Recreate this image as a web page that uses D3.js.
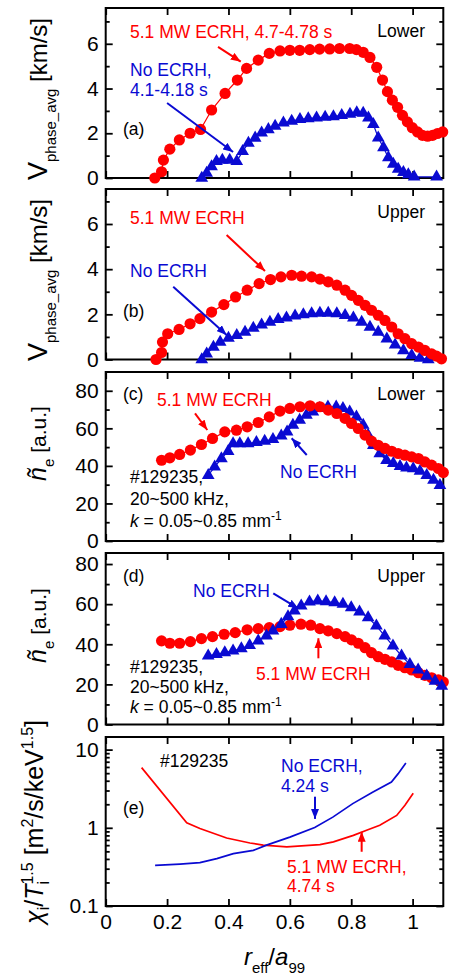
<!DOCTYPE html>
<html>
<head>
<meta charset="utf-8">
<script src="https://cdn.jsdelivr.net/npm/d3@7"></script>
<style>
  body { margin: 0; background: #fff; }
  text { font-family: "Liberation Sans", Arial, sans-serif; }
</style>
</head>
<body>
<svg id="chart" width="454" height="978"></svg>
<script>
const RED = '#ff0000'
const BLUE = '#0a0ad2'

// shared x ticks (r_eff/a_99)
const xTicks = [0, 0.2, 0.4, 0.6, 0.8, 1]

// (a) V_phase_avg, lower
const aRedR = [0.160,0.182,0.188,0.209,0.240,0.275,0.309,0.345,0.389,0.429,0.459,0.497,0.533,0.568,0.600,0.632,0.665,0.697,0.730,0.762,0.795,0.817,0.839,0.861,0.883,0.902,0.918,0.934,0.951,0.967,0.983,0.999,1.016,1.032,1.049,1.065,1.081,1.098]
const aRedV = [0.00,0.28,0.80,1.29,1.70,2.00,2.17,3.04,3.78,4.38,4.90,5.27,5.57,5.68,5.71,5.71,5.74,5.76,5.77,5.79,5.79,5.74,5.62,5.39,4.95,4.38,3.86,3.48,3.16,2.80,2.51,2.25,2.06,1.91,1.87,1.91,1.99,2.06]
const aBlueR = [0.313,0.329,0.345,0.361,0.380,0.404,0.427,0.446,0.465,0.487,0.508,0.530,0.552,0.579,0.606,0.633,0.660,0.687,0.715,0.742,0.769,0.796,0.818,0.839,0.856,0.872,0.888,0.905,0.921,0.937,0.953,0.970,0.986,1.005,1.078]
const aBlueV = [0.00,0.22,0.51,0.74,0.80,0.80,0.74,1.19,1.56,1.79,2.02,2.17,2.32,2.47,2.54,2.62,2.66,2.69,2.72,2.75,2.80,2.86,2.92,2.90,2.69,2.40,1.80,1.36,0.91,0.62,0.40,0.25,0.15,0.05,0.05]

// (b) V_phase_avg, upper
const bRedR = [0.164,0.182,0.185,0.202,0.239,0.275,0.307,0.345,0.385,0.423,0.461,0.500,0.537,0.571,0.606,0.638,0.671,0.698,0.725,0.753,0.780,0.801,0.823,0.845,0.866,0.888,0.910,0.932,0.953,0.975,0.997,1.019,1.040,1.062,1.078,1.094]
const bRedV = [0.00,0.31,0.77,1.14,1.33,1.58,1.81,2.10,2.43,2.77,3.07,3.36,3.54,3.66,3.73,3.69,3.66,3.56,3.44,3.29,3.07,2.84,2.62,2.40,2.18,1.96,1.73,1.44,1.14,0.92,0.70,0.55,0.40,0.25,0.15,0.03]
const bBlueR = [0.313,0.329,0.351,0.373,0.400,0.427,0.454,0.481,0.508,0.535,0.562,0.589,0.617,0.644,0.671,0.698,0.725,0.753,0.780,0.807,0.834,0.861,0.888,0.916,0.943,0.970,0.997,1.024,1.051]
const bBlueV = [0.00,0.25,0.55,0.77,0.95,1.07,1.21,1.39,1.54,1.66,1.78,1.84,1.93,1.99,2.03,2.06,2.06,2.03,1.96,1.84,1.66,1.44,1.21,0.92,0.65,0.40,0.18,0.06,0.00]

// (c) n_e fluctuation, lower
const cRedR = [0.182,0.209,0.241,0.276,0.312,0.348,0.388,0.426,0.461,0.497,0.533,0.568,0.600,0.633,0.666,0.698,0.725,0.753,0.780,0.801,0.823,0.845,0.866,0.888,0.910,0.932,0.953,0.975,0.997,1.019,1.040,1.062,1.084,1.100]
const cRedV = [43.0,44.3,46.1,48.4,51.4,54.6,58.1,59.0,60.8,63.1,66.1,69.2,70.6,71.5,72.0,71.5,69.7,67.9,65.3,62.6,59.9,56.4,53.2,51.0,49.3,47.8,46.6,45.7,44.8,43.9,42.1,40.4,38.6,36.5]
const cBlueR = [0.334,0.355,0.377,0.399,0.415,0.437,0.464,0.491,0.518,0.545,0.572,0.591,0.610,0.632,0.654,0.675,0.697,0.724,0.751,0.773,0.795,0.817,0.839,0.855,0.872,0.893,0.915,0.937,0.959,0.980,1.002,1.024,1.046,1.068,1.089]
const cBlueV = [35.0,39.5,43.9,47.8,51.9,51.9,51.9,52.5,53.2,54.2,56.0,58.1,61.7,64.4,67.0,68.8,70.6,71.5,71.5,70.6,68.8,66.1,61.7,56.4,51.0,46.6,43.0,41.3,39.8,38.9,38.6,37.2,35.0,32.4,29.7]

// (d) n_e fluctuation, upper
const dRedR = [0.182,0.209,0.241,0.276,0.312,0.348,0.386,0.422,0.461,0.497,0.533,0.568,0.600,0.636,0.668,0.698,0.725,0.753,0.780,0.801,0.823,0.845,0.866,0.888,0.910,0.932,0.953,0.975,0.997,1.019,1.040,1.062,1.084,1.100]
const dRedV = [41.7,40.5,40.5,41.3,42.8,43.8,45.0,45.8,47.2,47.8,48.3,48.8,49.5,50.0,49.5,47.8,46.7,45.3,43.8,42.2,40.5,38.3,35.8,33.8,32.5,31.2,29.5,28.3,27.2,25.8,24.5,23.3,22.2,21.2]
const dBlueR = [0.334,0.361,0.388,0.415,0.442,0.469,0.497,0.524,0.545,0.572,0.594,0.615,0.637,0.664,0.691,0.718,0.746,0.773,0.800,0.827,0.855,0.882,0.909,0.936,0.964,0.991,1.018,1.046,1.073,1.095]
const dBlueV = [34.2,35.0,35.8,36.7,37.8,39.5,41.7,44.2,46.7,50.0,53.8,56.7,59.2,61.2,61.7,61.3,60.8,60.0,58.3,56.2,53.3,49.2,44.2,39.2,34.2,30.0,27.2,24.2,21.7,19.2]

// (e) chi_i / T_i^1.5
const eRedR = [0.117,0.264,0.307,0.394,0.470,0.513,0.590,0.698,0.742,0.807,0.850,0.893,0.948,0.975,1.002]
const eRedV = [5.89,1.16,0.98,0.74,0.64,0.60,0.57,0.61,0.66,0.80,0.93,1.08,1.44,1.94,2.76]
const eBlueR = [0.161,0.242,0.307,0.362,0.416,0.481,0.524,0.600,0.681,0.740,0.805,0.871,0.931,0.953,0.978]
const eBlueV = [0.331,0.344,0.359,0.404,0.468,0.515,0.60,0.76,1.01,1.37,2.04,2.87,3.85,4.93,6.74]

const svg = d3.select('#chart')
const x = d3.scaleLinear().domain([0, 1.1]).range([105.7, 443.3])
const [x0, x1] = x.range()
const fmt = d3.format('~g')

const defs = svg.append('defs')
;[['red', RED], ['blue', BLUE]].forEach(([id, c]) => {
  defs.append('marker').attr('id', 'head-' + id)
    .attr('viewBox', '0 0 10 8').attr('refX', 10).attr('refY', 4)
    .attr('markerUnits', 'userSpaceOnUse').attr('markerWidth', 10).attr('markerHeight', 8)
    .attr('orient', 'auto')
    .append('path').attr('d', 'M0,0 L10,4 L0,8 z').attr('fill', c)
})

// text with sub/superscripts
function rich(sel, parts) {
  let off = 0
  parts.forEach(p => {
    const o = typeof p === 'string' ? { t: p } : p
    const shift = o.sub ? o.sub : o.sup ? -o.sup : 0
    const ts = sel.append('tspan').text(o.t).attr('dy', shift - off)
    off = shift
    if (o.size) ts.attr('font-size', o.size)
    if (o.it) ts.attr('font-style', 'italic')
    if (o.back) ts.attr('dx', -ts.node().previousSibling.getComputedTextLength())
  })
  return sel
}

const vLabel = [{ t: 'V', size: 27 }, { t: 'phase_avg', sub: 9, size: 15 }, { t: ' [km/s]', size: 24 }]
const nLabel = [{ t: 'ñ', it: true, size: 25 }, { t: 'e', sub: 8, size: 15 }, { t: ' [a.u.]', size: 21 }]
const chiLabel = [{ t: 'χ', it: true }, { t: 'i', sub: 6, size: 16 }, '/', { t: 'T', it: true },
  { t: 'i', sub: 6, size: 16 }, { t: '1.5', sup: 10, size: 16, back: true }, ' [m',
  { t: '2', sup: 10, size: 16 }, '/s/keV', { t: '1.5', sup: 10, size: 16 }, ']']
const kLine = [{ t: 'k', it: true }, ' = 0.05~0.85 mm', { t: '-1', sup: 7, size: 12 }]

const logMinor = [2, 3, 4, 5, 6, 7, 8, 9].flatMap(k => [k * 0.1, k])

const panels = [
  { top: 8, bottom: 178, y: d3.scaleLinear().domain([0, 7.6]), major: [0, 2, 4, 6], minor: [1, 3, 5, 7],
    series: [{ r: aBlueR, v: aBlueV, c: BLUE, m: 'tri' }, { r: aRedR, v: aRedV, c: RED, m: 'dot' }],
    label: { parts: vLabel, x: 47, y: 99 },
    notes: [
      { x: 130, y: 29.7, c: RED, p: ['5.1 MW ECRH, 4.7-4.78 s'] },
      { x: 130, y: 68, c: BLUE, p: ['No ECRH,'] },
      { x: 130, y: 87.5, c: BLUE, p: ['4.1-4.18 s'] },
      { x: 425, y: 28.7, a: 'end', p: ['Lower'] },
      { x: 123, y: 127, p: ['(a)'] }],
    arrows: [{ c: 'red', f: [0.366, 5.86], t: [0.44, 5.2] }, { c: 'blue', f: [0.2, 3.35], t: [0.415, 1.16] }] },
  { top: 189, bottom: 359.5, y: d3.scaleLinear().domain([0, 7.55]), major: [0, 2, 4, 6], minor: [1, 3, 5, 7],
    series: [{ r: bBlueR, v: bBlueV, c: BLUE, m: 'tri' }, { r: bRedR, v: bRedV, c: RED, m: 'dot' }],
    label: { parts: vLabel, x: 47, y: 280 },
    notes: [
      { x: 130, y: 35.3, c: RED, p: ['5.1 MW ECRH'] },
      { x: 130, y: 88.3, c: BLUE, p: ['No ECRH'] },
      { x: 425, y: 29.3, a: 'end', p: ['Upper'] },
      { x: 123, y: 128, p: ['(b)'] }],
    arrows: [{ c: 'red', f: [0.394, 5.51], t: [0.519, 3.92] }, { c: 'blue', f: [0.22, 3.22], t: [0.394, 1.09] }] },
  { top: 372, bottom: 541, y: d3.scaleLinear().domain([0, 90]), major: [0, 20, 40, 60, 80], minor: [10, 30, 50, 70],
    series: [{ r: cBlueR, v: cBlueV, c: BLUE, m: 'tri' }, { r: cRedR, v: cRedV, c: RED, m: 'dot' }],
    label: { parts: nLabel, x: 46, y: 443.5 },
    notes: [
      { x: 123, y: 27.5, p: ['(c)'] },
      { x: 157, y: 33.7, c: RED, p: ['5.1 MW ECRH'] },
      { x: 425, y: 28, a: 'end', p: ['Lower'] },
      { x: 280, y: 105.7, c: BLUE, p: ['No ECRH'] },
      { x: 130, y: 111, p: ['#129235,'] },
      { x: 130, y: 133, p: ['20~500 kHz,'] },
      { x: 130, y: 155, p: kLine }],
    arrows: [{ c: 'red', f: [0.291, 68], t: [0.331, 59.1] }, { c: 'blue', f: [0.655, 45.8], t: [0.606, 54.7] }] },
  { top: 553, bottom: 724.5, y: d3.scaleLinear().domain([0, 85.5]), major: [0, 20, 40, 60, 80], minor: [10, 30, 50, 70],
    series: [{ r: dRedR, v: dRedV, c: RED, m: 'dot' }, { r: dBlueR, v: dBlueV, c: BLUE, m: 'tri' }],
    label: { parts: nLabel, x: 46, y: 625.5 },
    notes: [
      { x: 123, y: 29.3, p: ['(d)'] },
      { x: 425, y: 29.3, a: 'end', p: ['Upper'] },
      { x: 193, y: 44.3, c: BLUE, p: ['No ECRH'] },
      { x: 256, y: 127, c: RED, p: ['5.1 MW ECRH'] },
      { x: 130, y: 119.5, p: ['#129235,'] },
      { x: 130, y: 139.5, p: ['20~500 kHz,'] },
      { x: 130, y: 159.5, p: kLine }],
    arrows: [{ c: 'blue', f: [0.546, 65.4], t: [0.627, 57.9] }, { c: 'red', f: [0.693, 33], t: [0.693, 43] }] },
  { top: 737, bottom: 906, y: d3.scaleLog().domain([0.1, 14.5]), major: [0.1, 1, 10], minor: logMinor, last: true,
    series: [{ r: eRedR, v: eRedV, c: RED }, { r: eBlueR, v: eBlueV, c: BLUE }],
    label: { parts: chiLabel, x: 43, y: 822 },
    notes: [
      { x: 160, y: 29.7, p: ['#129235'] },
      { x: 123, y: 77, p: ['(e)'] },
      { x: 281, y: 34.7, c: BLUE, p: ['No ECRH,'] },
      { x: 281, y: 54.7, c: BLUE, p: ['4.24 s'] },
      { x: 287, y: 136.3, c: RED, p: ['5.1 MW ECRH,'] },
      { x: 287, y: 155.3, c: RED, p: ['4.74 s'] }],
    arrows: [{ c: 'blue', f: [0.682, 2.5], t: [0.682, 1.3] }, { c: 'red', f: [0.834, 0.494], t: [0.834, 0.89] }] }
]

function addAxis(g, axis, tr) {
  return g.append('g').attr('transform', tr).call(axis)
    .call(a => a.select('.domain').remove())
    .call(a => a.selectAll('line').attr('stroke', '#000').attr('stroke-width', 1.8))
    .attr('font-size', 21).attr('font-family', '"Liberation Sans", Arial, sans-serif')
    .call(a => a.selectAll('text').attr('fill', '#000'))
}

panels.forEach(p => {
  const g = svg.append('g')
  const y = p.y.range([p.bottom, p.top])
  const minor = p.minor.filter(v => v <= y.domain()[1])

  // ticks, all inward, mirrored on top/right
  addAxis(g, d3.axisLeft(y).tickValues(p.major).tickSize(-7).tickPadding(7).tickFormat(fmt), `translate(${x0},0)`)
  addAxis(g, d3.axisLeft(y).tickValues(minor).tickSize(-4).tickFormat(''), `translate(${x0},0)`)
  addAxis(g, d3.axisRight(y).tickValues(p.major).tickSize(-7).tickFormat(''), `translate(${x1},0)`)
  addAxis(g, d3.axisRight(y).tickValues(minor).tickSize(-4).tickFormat(''), `translate(${x1},0)`)
  addAxis(g, d3.axisBottom(x).tickValues(xTicks).tickSize(-7).tickPadding(8).tickFormat(p.last ? fmt : ''), `translate(0,${p.bottom})`)
  addAxis(g, d3.axisTop(x).tickValues(xTicks).tickSize(-7).tickFormat(''), `translate(0,${p.top})`)

  g.append('rect').attr('x', x0).attr('y', p.top)
    .attr('width', x1 - x0).attr('height', p.bottom - p.top)
    .attr('fill', 'none').attr('stroke', '#000').attr('stroke-width', 2)

  // data
  p.series.forEach(s => {
    const pts = s.r.map((r, i) => [r, s.v[i]])
    g.append('path').datum(pts)
      .attr('d', d3.line().x(d => x(d[0])).y(d => y(d[1])))
      .attr('fill', 'none').attr('stroke', s.c).attr('stroke-width', s.m ? 1.2 : 1.7)
    if (s.m === 'dot') {
      g.selectAll(null).data(pts).join('circle')
        .attr('cx', d => x(d[0])).attr('cy', d => y(d[1])).attr('r', 5.6).attr('fill', s.c)
    } else if (s.m === 'tri') {
      g.selectAll(null).data(pts).join('path')
        .attr('d', d3.symbol(d3.symbolTriangle, 70))
        .attr('transform', d => `translate(${x(d[0])},${y(d[1])})`).attr('fill', s.c)
    }
  })

  // annotations
  p.arrows.forEach(a => {
    g.append('line')
      .attr('x1', x(a.f[0])).attr('y1', y(a.f[1])).attr('x2', x(a.t[0])).attr('y2', y(a.t[1]))
      .attr('stroke', a.c === 'red' ? RED : BLUE).attr('stroke-width', 2)
      .attr('marker-end', `url(#head-${a.c})`)
  })
  p.notes.forEach(n => {
    rich(g.append('text').attr('x', n.x).attr('y', p.top + n.y)
      .attr('text-anchor', n.a || 'start').attr('font-size', 17.5).attr('fill', n.c || '#000'), n.p)
  })

  rich(g.append('text')
    .attr('transform', `translate(${p.label.x},${p.label.y}) rotate(-90)`)
    .attr('text-anchor', 'middle').attr('font-size', p.last ? 25 : 24).attr('fill', '#000'), p.label.parts)
})

rich(svg.append('text').attr('x', (x0 + x1) / 2).attr('y', 965)
  .attr('text-anchor', 'middle').attr('font-size', 24).attr('fill', '#000'),
  [{ t: 'r', it: true }, { t: 'eff', sub: 8, size: 15 }, '/', { t: 'a', it: true }, { t: '99', sub: 8, size: 15 }])
</script>
</body>
</html>
